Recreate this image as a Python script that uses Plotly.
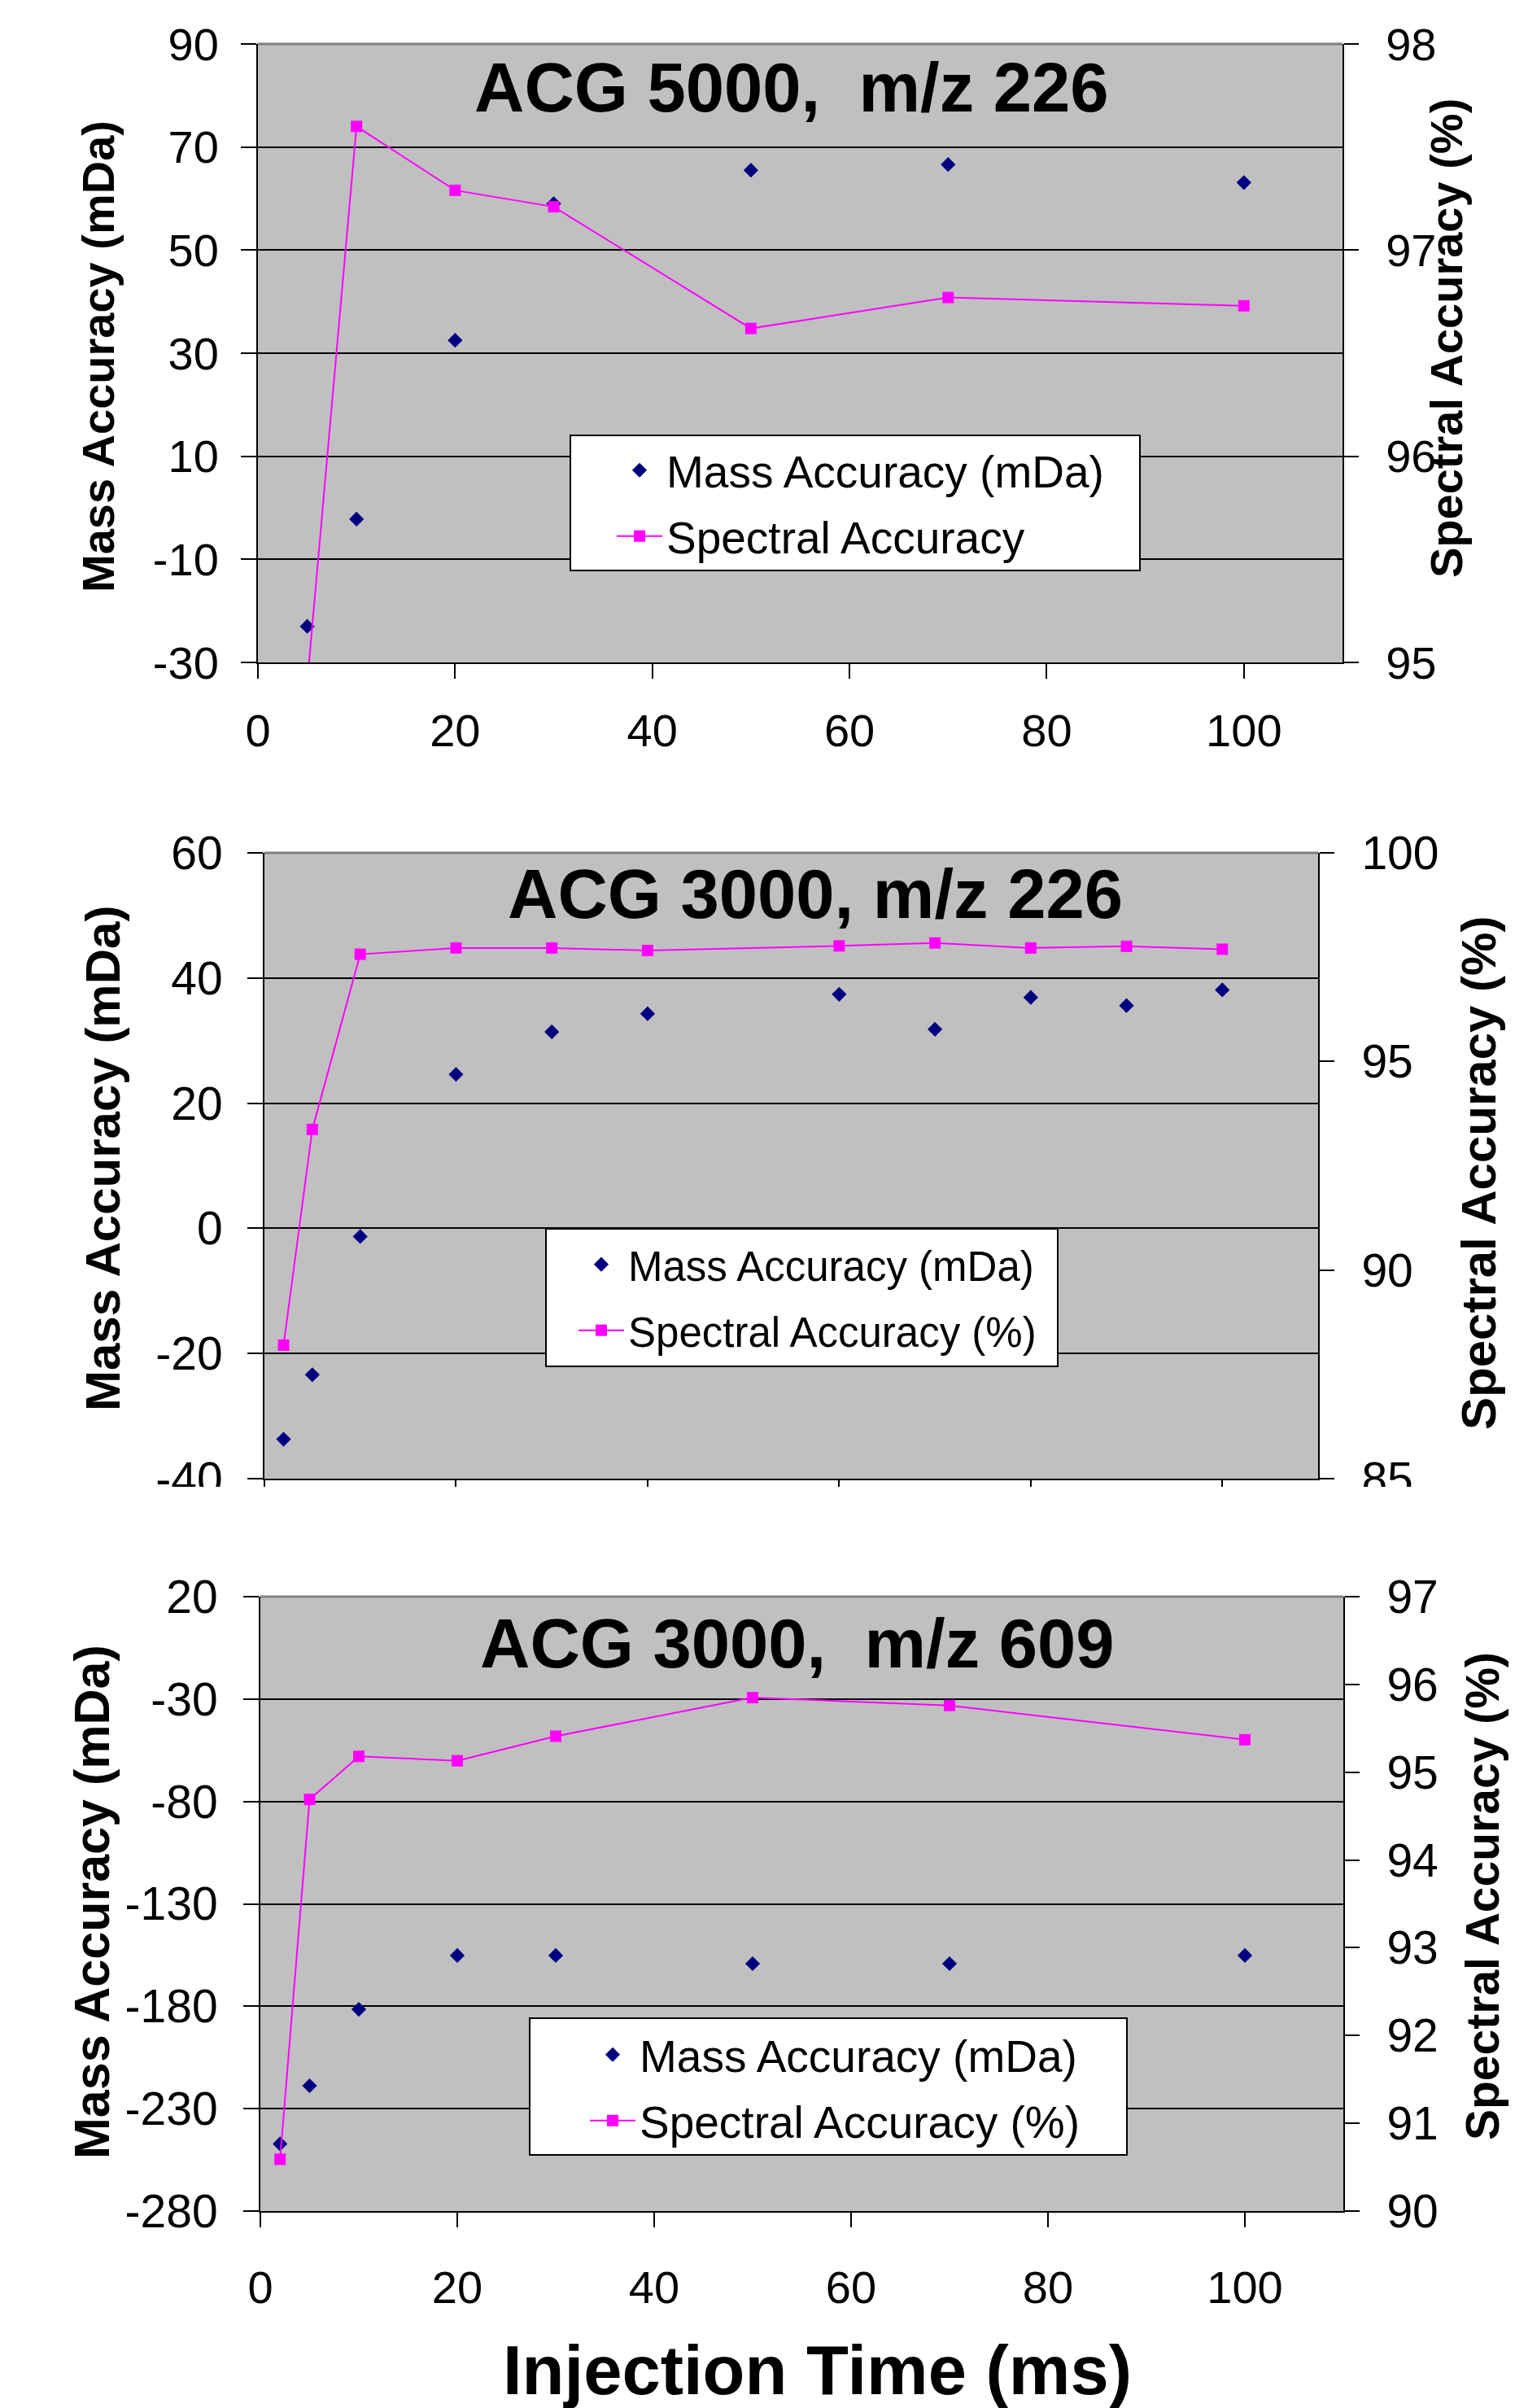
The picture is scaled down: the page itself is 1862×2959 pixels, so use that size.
import plotly.graph_objects as go

# page size and the 8px default body margin of the html page
PAGE_W, PAGE_H = 1862, 2959
OFF = 8
W, H = PAGE_W - OFF, PAGE_H - OFF
FONT = "Liberation Sans, Arial, sans-serif"

# ---------------- data ----------------
# Panel 1: ACG 5000, m/z 226
p1_time = [5, 10, 20, 30, 50, 70, 100]
p1_mass = [-23.0, -2.2, 32.5, 59.0, 65.5, 66.6, 63.1]
p1_spec = [94.9, 97.60, 97.29, 97.21, 96.62, 96.77, 96.73]

# Panel 2: ACG 3000, m/z 226
p2_time = [2, 5, 10, 20, 30, 40, 60, 70, 80, 90, 100]
p2_mass = [-33.7, -23.4, -1.3, 24.6, 31.4, 34.3, 37.4, 31.8, 36.9, 35.6, 38.1]
p2_spec = [88.2, 93.37, 97.57, 97.72, 97.72, 97.66, 97.77, 97.84, 97.72, 97.76, 97.69]

# Panel 3: ACG 3000, m/z 609
p3_time = [2, 5, 10, 20, 30, 50, 70, 100]
p3_mass = [-247.2, -218.8, -181.5, -155.2, -155.2, -159.2, -159.2, -155.2]
p3_spec = [90.59, 94.69, 95.18, 95.13, 95.41, 95.85, 95.76, 95.37]

# tick values
x_ticks = [0, 20, 40, 60, 80, 100]
p1_left_ticks = [-30, -10, 10, 30, 50, 70, 90]
p1_right_ticks = [95, 96, 97, 98]
p2_left_ticks = [-40, -20, 0, 20, 40, 60]
p2_right_ticks = [85, 90, 95, 100]
p3_left_ticks = [-280, -230, -180, -130, -80, -30, 20]
p3_right_ticks = [90, 91, 92, 93, 94, 95, 96, 97]

titles = ["ACG 5000,\u00a0 m/z 226", "ACG 3000, m/z 226", "ACG 3000,\u00a0 m/z 609"]
mass_name = "Mass Accuracy (mDa)"
spec_names = ["Spectral Accuracy", "Spectral Accuracy (%)", "Spectral Accuracy (%)"]

NAVY = "#000080"
MAGENTA = "#FF00FF"


def px_x(x):
    return (x - OFF) / W


def px_y(y):
    return 1 - (y - OFF) / H


fig = go.Figure()

panels = [
    dict(t=p1_time, m=p1_mass, s=p1_spec, xa="x", yl="y", yr="y2",
         lg=("legend2", "legend3")),
    dict(t=p2_time, m=p2_mass, s=p2_spec, xa="x2", yl="y3", yr="y4",
         lg=("legend4", "legend5")),
    dict(t=p3_time, m=p3_mass, s=p3_spec, xa="x3", yl="y5", yr="y6",
         lg=("legend6", "legend7")),
]

for i, p in enumerate(panels):
    fig.add_trace(go.Scatter(
        x=p["t"], y=p["m"], xaxis=p["xa"], yaxis=p["yl"], mode="markers",
        name=mass_name, legend=p["lg"][0],
        marker=dict(symbol="diamond", size=14, color=NAVY, line=dict(width=0)),
    ))
    fig.add_trace(go.Scatter(
        x=p["t"], y=p["s"], xaxis=p["xa"], yaxis=p["yr"], mode="lines+markers",
        name=spec_names[i], legend=p["lg"][1],
        line=dict(color=MAGENTA, width=2),
        marker=dict(symbol="square", size=14, color=MAGENTA, line=dict(width=0)),
    ))

tickfont = dict(family=FONT, size=56, color="black")


def xaxis_cfg(domain, anchor, show_labels, standoff=22):
    return dict(
        domain=domain, anchor=anchor, range=[0, 110],
        tickmode="array", tickvals=x_ticks, ticktext=[str(v) for v in x_ticks],
        ticks="outside", ticklen=18, tickwidth=2, tickcolor="black",
        showline=True, linecolor="black", linewidth=2,
        showgrid=False, zeroline=False, showticklabels=show_labels,
        tickfont=tickfont, ticklabelstandoff=standoff, automargin=False,
        fixedrange=True,
    )


def yleft_cfg(domain, anchor, ticks, size=56, standoff=17):
    return dict(
        domain=domain, anchor=anchor, range=[ticks[0], ticks[-1]],
        tickmode="array", tickvals=ticks, ticktext=[str(v) for v in ticks],
        ticks="outside", ticklen=19, tickwidth=2, tickcolor="black",
        showline=True, linecolor="black", linewidth=2,
        showgrid=True, gridcolor="black", gridwidth=2, zeroline=False,
        tickfont=dict(family=FONT, size=size, color="black"),
        ticklabelstandoff=standoff, automargin=False, fixedrange=True,
    )


def yright_cfg(over, anchor, ticks, size=56):
    return dict(
        overlaying=over, anchor=anchor, side="right", range=[ticks[0], ticks[-1]],
        tickmode="array", tickvals=ticks, ticktext=[str(v) for v in ticks],
        ticks="outside", ticklen=18, tickwidth=2, tickcolor="black",
        showline=True, linecolor="black", linewidth=2,
        showgrid=False, zeroline=False,
        tickfont=dict(family=FONT, size=size, color="black"),
        ticklabelstandoff=22, automargin=False, fixedrange=True,
    )


def yinner_cfg(over, anchor, ticks):
    return dict(
        overlaying=over, anchor=anchor, side="right", range=[ticks[0], ticks[-1]],
        tickmode="array", tickvals=ticks, ticks="inside", ticklen=18, tickwidth=2,
        tickcolor="black", showticklabels=False, showline=False, showgrid=False,
        zeroline=False, automargin=False, fixedrange=True,
    )


d1x = [px_x(317), px_x(1650)]
d1y = [px_y(814), px_y(54)]
d2x = [px_x(325), px_x(1620)]
d2y = [px_y(1817), px_y(1048)]
d3x = [px_x(320), px_x(1651)]
d3y = [px_y(2717), px_y(1962)]

fig.update_layout(
    xaxis=xaxis_cfg(d1x, "y", True, 16),
    xaxis2=xaxis_cfg(d2x, "y3", False),
    xaxis3=xaxis_cfg(d3x, "y5", True, 26),
    yaxis=yleft_cfg(d1y, "x", p1_left_ticks, 56, 16),
    yaxis2=yright_cfg("y", "x", p1_right_ticks),
    yaxis3=yleft_cfg(d2y, "x2", p2_left_ticks, 57, 19),
    yaxis4=yright_cfg("y3", "x2", p2_right_ticks, 57),
    yaxis5=yleft_cfg(d3y, "x3", p3_left_ticks, 57, 20),
    yaxis6=yright_cfg("y5", "x3", p3_right_ticks, 57),
    yaxis7=yinner_cfg("y", "x", p1_right_ticks),
    yaxis8=yinner_cfg("y3", "x2", p2_right_ticks),
    yaxis9=yinner_cfg("y5", "x3", p3_right_ticks),
)

# legends: one entry each, transparent, placed over white boxes drawn as shapes
leg_items = [
    # (legend key, text-left px, center-y px, font size)
    ("legend2", 823, 578, 55),
    ("legend3", 823, 659, 55),
    ("legend4", 776, 1554, 51),
    ("legend5", 776, 1635, 51),
    ("legend6", 790, 2525, 55),
    ("legend7", 790, 2606, 55),
]
ITEMW = 56
for key, tl, cy, fs in leg_items:
    fig.update_layout({key: dict(
        x=px_x(tl - ITEMW - 14), y=px_y(cy), xanchor="left", yanchor="middle",
        bgcolor="rgba(0,0,0,0)", borderwidth=0, itemwidth=ITEMW,
        font=dict(family=FONT, size=fs, color="black"),
    )})
fig.update_layout(showlegend=True)

shapes = []
# legend boxes
for (x0, y0, x1, y1) in [(701, 535, 1401, 701), (671, 1510, 1300, 1679),
                         (651, 2480, 1385, 2648)]:
    shapes.append(dict(type="rect", xref="paper", yref="paper",
                       x0=px_x(x0), x1=px_x(x1), y0=px_y(y1), y1=px_y(y0),
                       fillcolor="white", line=dict(color="black", width=2),
                       layer="above"))
# gray top border of each plot area
for xr, yr in [("x", "y"), ("x2", "y3"), ("x3", "y5")]:
    shapes.append(dict(type="line", xref=xr + " domain", yref=yr + " domain",
                       x0=0, x1=1, y0=1, y1=1,
                       line=dict(color="#808080", width=3), layer="above"))
# the middle chart is cropped just below its axis
shapes.append(dict(type="rect", xref="paper", yref="paper",
                   x0=0, x1=1, y0=px_y(1936), y1=px_y(1827),
                   fillcolor="white", line=dict(width=0), layer="above"))
fig.update_layout(shapes=shapes)

ann = []
title_pos = [(973, 108), (1002, 1098), (980, 2019)]
for t, (x, y) in zip(titles, title_pos):
    ann.append(dict(text=t, x=px_x(x), y=px_y(y), xref="paper", yref="paper",
                    xanchor="center", yanchor="middle", showarrow=False,
                    font=dict(family=FONT, size=85, color="black", weight="bold")))
left_pos = [(121, 438, 56), (126, 1424, 60), (113, 2337, 61)]
for x, y, fs in left_pos:
    ann.append(dict(text="Mass Accuracy (mDa)", x=px_x(x), y=px_y(y),
                    xref="paper", yref="paper", xanchor="center", yanchor="middle",
                    textangle=-90, showarrow=False,
                    font=dict(family=FONT, size=fs, color="black", weight="bold")))
right_pos = [(1777, 416, 56), (1817, 1442, 60), (1822, 2330, 57)]
for x, y, fs in right_pos:
    ann.append(dict(text="Spectral Accuracy (%)", x=px_x(x), y=px_y(y),
                    xref="paper", yref="paper", xanchor="center", yanchor="middle",
                    textangle=-90, showarrow=False,
                    font=dict(family=FONT, size=fs, color="black", weight="bold")))
ann.append(dict(text="Injection Time (ms)", x=px_x(1005), y=px_y(2912),
                xref="paper", yref="paper", xanchor="center", yanchor="middle",
                showarrow=False,
                font=dict(family=FONT, size=85, color="black", weight="bold")))
fig.update_layout(annotations=ann)

fig.update_layout(
    width=W, height=H, margin=dict(l=0, r=0, t=0, b=0, autoexpand=False),
    paper_bgcolor="white", plot_bgcolor="#C0C0C0",
    font=dict(family=FONT, color="black"),
    hovermode=False,
)

fig.write_html("out.html")
